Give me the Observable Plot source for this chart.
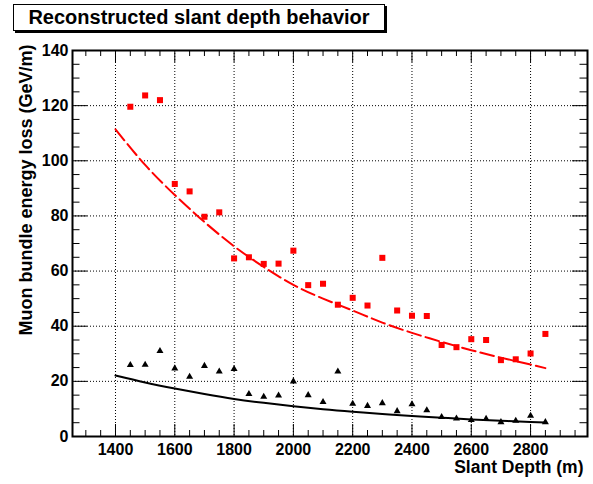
<!DOCTYPE html>
<html><head><meta charset="utf-8">
<script src="https://cdn.jsdelivr.net/npm/d3@7"></script>
<script src="https://cdn.jsdelivr.net/npm/@observablehq/plot@0.6"></script>
<style>
html,body{margin:0;padding:0;background:#fff;}
#wrap{position:relative;width:593px;height:484px;font-family:"Liberation Sans",Arial,sans-serif;}
#title{position:absolute;left:13px;top:4px;width:370px;height:25px;border:1px solid #000;box-shadow:2px 2px 0 #000;background:#fff;font-weight:bold;font-size:20px;line-height:25px;text-align:center;white-space:nowrap;}
</style>
</head><body>
<div id="wrap"><div id="chart"></div><div id="title">Reconstructed slant depth behavior</div></div>
<script>
const titleText = "Reconstructed slant depth behavior";
const xTitle = "Slant Depth (m)";
const yTitle = "Muon bundle energy loss (GeV/m)";

const depth = [1450,1500,1550,1600,1650,1700,1750,1800,1850,1900,1950,2000,2050,2100,2150,2200,2250,2300,2350,2400,2450,2500,2550,2600,2650,2700,2750,2800,2850];
const redVals = [119.6,123.7,122.0,91.6,88.9,79.7,81.3,64.6,65.0,62.6,62.7,67.4,54.9,55.4,47.8,50.3,47.5,64.8,45.7,43.8,43.7,33.2,32.4,35.3,35.0,27.7,28.0,30.1,37.2];
const blackVals = [25.9,26.0,31.0,24.7,21.7,25.6,23.6,24.5,15.4,14.4,14.9,20.0,15.0,12.5,23.6,11.9,11.1,12.1,9.2,11.7,9.5,7.1,6.5,6.0,6.4,5.2,5.7,7.5,5.2];

const fitDepth = [1400,1500,1600,1700,1800,1900,2000,2100,2200,2300,2400,2500,2600,2700,2800,2850];
const redFit = [111.4,98.5,87.6,77.8,69.0,61.5,55.0,50.0,45.7,41.3,37.6,34.3,31.3,28.6,26.1,24.8];
const blackFit = [22.1,19.6,17.4,15.4,13.6,12.2,11.0,9.9,9.0,8.2,7.4,6.8,6.2,5.7,5.3,5.1];

const xTicks = [1400,1600,1800,2000,2200,2400,2600,2800];
const xMinor = [1300,1350,1450,1500,1550,1650,1700,1750,1850,1900,1950,2050,2100,2150,2250,2300,2350,2450,2500,2550,2650,2700,2750,2850,2900,2950];
const yTicks = [0,20,40,60,80,100,120,140];
const yGrid = [20,40,60,80,100,120];
const yMinor = [5,10,15,25,30,35,45,50,55,65,70,75,85,90,95,105,110,115,125,130,135];

const xDomain = [1255, 2992];
const yDomain = [0, 140];

const W = 593, H = 484, mL = 72, mR = 6, mT = 50, mB = 48;
const fw = W - mL - mR, fh = H - mT - mB;

const pts = depth.map((d,i)=>({d, red: redVals[i], black: blackVals[i]}));
const fit = fitDepth.map((d,i)=>({d, red: redFit[i], black: blackFit[i]}));

document.getElementById("title").textContent = titleText;

const chart = Plot.plot({
  width: W, height: H,
  marginLeft: mL, marginRight: mR, marginTop: mT, marginBottom: mB,
  x: {domain: xDomain},
  y: {domain: yDomain},
  style: {fontFamily: "Liberation Sans, Arial, sans-serif", fontWeight: "bold", background: "#fff", color: "#000"},
  marks: [
    Plot.ruleX(xTicks, {x: d=>d, stroke: "#000", strokeWidth: 1, strokeDasharray: "1,2"}),
    Plot.ruleY(yGrid, {y: d=>d, stroke: "#000", strokeWidth: 1, strokeDasharray: "1,2"}),
    Plot.line(fit, {x: "d", y: "black", stroke: "#000", strokeWidth: 2, curve: "natural"}),
    Plot.line(fit, {x: "d", y: "red", stroke: "#ff0000", strokeWidth: 2, strokeDasharray: "14,5", curve: "natural"}),
    Plot.dot(pts, {x: "d", y: "red", symbol: "square", r: 3.4, fill: "#ff0000", stroke: "none"}),
    Plot.dot(pts, {x: "d", y: "black", symbol: "triangle", r: 2.6, fill: "#000", stroke: "none"}),
    Plot.tickX(xTicks, {x: d=>d, insetTop: fh - 12, stroke: "#000"}),
    Plot.tickX(xMinor, {x: d=>d, insetTop: fh - 6, stroke: "#000"}),
    Plot.tickX(xTicks, {x: d=>d, insetBottom: fh - 12, stroke: "#000"}),
    Plot.tickX(xMinor, {x: d=>d, insetBottom: fh - 6, stroke: "#000"}),
    Plot.tickY(yGrid, {y: d=>d, insetRight: fw - 15, stroke: "#000"}),
    Plot.tickY(yMinor, {y: d=>d, insetRight: fw - 7.5, stroke: "#000"}),
    Plot.tickY(yGrid, {y: d=>d, insetLeft: fw - 15, stroke: "#000"}),
    Plot.tickY(yMinor, {y: d=>d, insetLeft: fw - 7.5, stroke: "#000"}),
    Plot.frame({stroke: "#000", strokeWidth: 2}),
    Plot.axisX(xTicks, {tickSize: 0, tickPadding: 7, fontSize: 16, fontWeight: "bold", tickFormat: d=>String(d), label: null}),
    Plot.axisY(yTicks, {tickSize: 0, tickPadding: 4, fontSize: 16, fontWeight: "bold", tickFormat: d=>String(d), label: null}),
    Plot.text([yTitle], {text: d=>d, frameAnchor: "top-left", rotate: -90, textAnchor: "end", lineAnchor: "bottom", dx: -41, dy: -6, fontSize: 18, fontWeight: "bold", fill: "#000"}),
    Plot.text([xTitle], {text: d=>d, frameAnchor: "bottom-right", textAnchor: "end", lineAnchor: "bottom", dx: -4, dy: 36, fontSize: 17.5, fontWeight: "bold", fill: "#000"})
  ]
});
document.getElementById("chart").appendChild(chart);
</script>
</body></html>
